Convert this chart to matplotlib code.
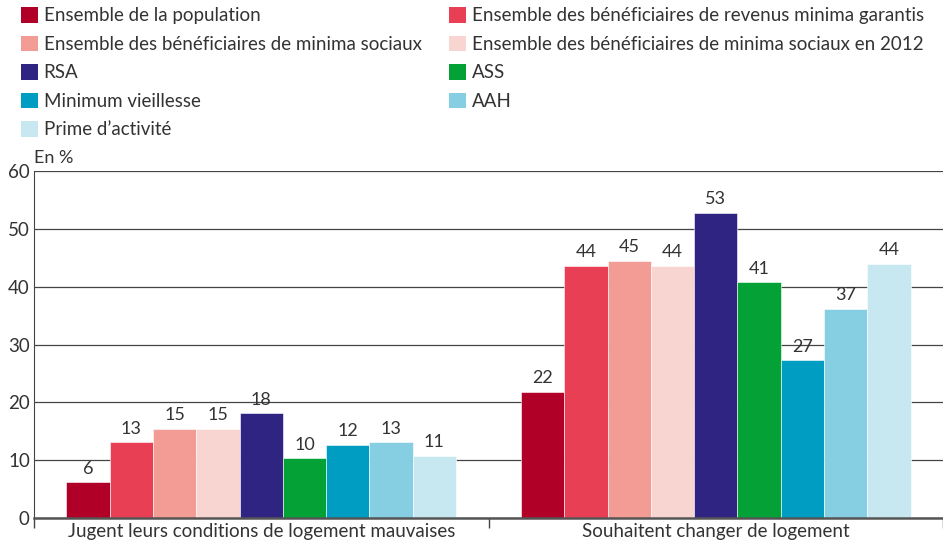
import numpy as np
import matplotlib.pyplot as plt
from matplotlib.patches import Patch

plt.rcParams['font.family'] = ['Lato', 'DejaVu Sans']

categories = ["Jugent leurs conditions de logement mauvaises", "Souhaitent changer de logement"]
series = ["Ensemble de la population",
          "Ensemble des bénéficiaires de revenus minima garantis",
          "Ensemble des bénéficiaires de minima sociaux",
          "Ensemble des bénéficiaires de minima sociaux en 2012",
          "RSA", "ASS", "Minimum vieillesse", "AAH", "Prime d\u2019activité"]
colors = ["#B00028", "#E83F55", "#F39B95", "#F9D5D2", "#2F2482",
          "#04A236", "#009DC3", "#86CFE2", "#C7E8F1"]
values = [[6.1, 21.8],
          [13.1, 43.6],
          [15.4, 44.5],
          [15.4, 43.6],
          [18.1, 52.8],
          [10.3, 40.8],
          [12.6, 27.3],
          [13.1, 36.2],
          [10.7, 44.0]]
labels = [[6, 22], [13, 44], [15, 45], [15, 44], [18, 53],
          [10, 41], [12, 27], [13, 37], [11, 44]]

txt = "#333333"
fs = 13.5
fig = plt.figure(figsize=(9.43, 5.46), dpi=100)
ax = fig.add_axes([34/943, (546-517.7)/546, (943-34)/943, (517.7-171.3)/546])

x = np.arange(len(categories))
w = 0.857/len(series)
for i, (s, c) in enumerate(zip(series, colors)):
    bars = ax.bar(x + (i-4)*w, values[i], w, color=c, edgecolor='white', linewidth=0.4, zorder=3, label=s)
    for b, lab in zip(bars, labels[i]):
        ax.annotate(str(lab), (b.get_x()+b.get_width()/2, b.get_height()), xytext=(0, 4),
                    textcoords='offset points', ha='center', va='bottom', fontsize=fs-0.5, color=txt)

ax.set_ylim(0, 60)
ax.set_xlim(-0.5, 1.5)
ax.set_yticks(range(0, 61, 10))
ax.yaxis.grid(True, color='#444444', linewidth=0.9, zorder=0)
ax.set_axisbelow(True)
ax.tick_params(axis='y', length=0, labelsize=fs, colors=txt, pad=3)
ax.set_xticks(x)
ax.set_xticklabels(categories)
ax.tick_params(axis='x', which='major', length=0, labelsize=fs, colors=txt, pad=4)
ax.set_xticks([-0.5, 0.5, 1.5], minor=True)
ax.tick_params(axis='x', which='minor', length=7, color='#444444', width=1)
for sp in ['top', 'right']:
    ax.spines[sp].set_visible(False)
ax.spines['left'].set_color('#444444')
ax.spines['bottom'].set_color('#555555')
ax.spines['bottom'].set_linewidth(1.8)
ax.spines['bottom'].set_zorder(4)
ax.text(0.0, 1.015, "En %", transform=ax.transAxes, fontsize=fs-0.5, color=txt, ha='left', va='bottom')

handles = [Patch(facecolor=c) for c in colors]
left_idx = [0, 2, 4, 6, 8]
right_idx = [1, 3, 5, 7]
common = dict(frameon=False, fontsize=fs, handlelength=0.9, handleheight=0.9,
              handletextpad=0.3, labelspacing=0.6, borderpad=0, borderaxespad=0, labelcolor=txt)
fig.legend([handles[i] for i in left_idx], [series[i] for i in left_idx],
           loc='upper left', bbox_to_anchor=(21/943, 1-7/546), **common)
fig.legend([handles[i] for i in right_idx], [series[i] for i in right_idx],
           loc='upper left', bbox_to_anchor=(449/943, 1-7/546), **common)

fig.savefig("out.png", dpi=100)
